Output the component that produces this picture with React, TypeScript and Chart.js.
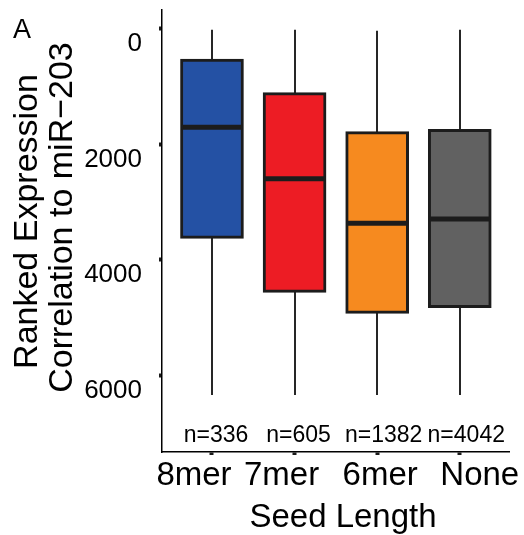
import React, { useEffect, useRef } from 'react';
import { Chart, registerables } from 'chart.js';

Chart.register(...registerables);

// ---- data ----
const categories = ['8mer', '7mer', '6mer', 'None'];
const countLabels = ['n=336', 'n=605', 'n=1382', 'n=4042'];
const whiskerLow = [15, 15, 30, 15];
const q1 = [519, 1103, 1778, 1737];
const median = [1703, 2592, 3365, 3290];
const q3 = [3625, 4560, 4924, 4826];
const whiskerHigh = [6340, 6340, 6340, 6340];
const yTicks = [0, 2000, 4000, 6000];
const boxColors = ['#2451A4', '#ED1C24', '#F68A1F', '#616161'];

// ---- layout / style constants ----
const FONT = '"Liberation Sans", Arial, Helvetica, sans-serif';
const W = 524;
const H = 535;
const BOX_W = 63;
const catLabelShift = [-18, -13, 3, 20];
const countShift = [4, 4, 6.5, 6.5];

const extrasPlugin = {
  id: 'boxExtras',
  beforeDatasetsDraw(chart: any) {
    const { ctx } = chart;
    const x = chart.scales.x;
    const y = chart.scales.y;
    ctx.save();
    ctx.strokeStyle = '#262626';
    ctx.lineWidth = 2;
    categories.forEach((_, i) => {
      const px = Math.round(x.getPixelForValue(i + 1));
      ctx.beginPath();
      ctx.moveTo(px, y.getPixelForValue(whiskerLow[i]));
      ctx.lineTo(px, y.getPixelForValue(whiskerHigh[i]));
      ctx.stroke();
    });
    ctx.restore();
  },
  afterDatasetsDraw(chart: any) {
    const { ctx } = chart;
    const x = chart.scales.x;
    const y = chart.scales.y;
    ctx.save();
    ctx.strokeStyle = '#1c1c1c';
    ctx.lineWidth = 5;
    categories.forEach((_, i) => {
      const px = x.getPixelForValue(i + 1);
      const py = y.getPixelForValue(median[i]);
      ctx.beginPath();
      ctx.moveTo(px - BOX_W / 2 + 1, py);
      ctx.lineTo(px + BOX_W / 2 - 1, py);
      ctx.stroke();
    });
    ctx.restore();
  },
  afterDraw(chart: any) {
    const { ctx } = chart;
    const x = chart.scales.x;
    ctx.save();
    ctx.fillStyle = '#000';
    ctx.textBaseline = 'alphabetic';

    // panel letter
    ctx.font = `27px ${FONT}`;
    ctx.textAlign = 'left';
    ctx.fillText('A', 13, 38);

    // y title (two lines, rotated)
    ctx.font = `34px ${FONT}`;
    ctx.textAlign = 'center';
    ctx.save();
    ctx.translate(37, 221.5);
    ctx.rotate(-Math.PI / 2);
    ctx.fillText('Ranked Expression', 0, 0);
    ctx.restore();
    ctx.save();
    ctx.translate(72, 217.5);
    ctx.rotate(-Math.PI / 2);
    ctx.fillText('Correlation to miR\u2212203', 0, 0);
    ctx.restore();

    // counts
    ctx.font = `23px ${FONT}`;
    countLabels.forEach((t, i) => {
      ctx.fillText(t, x.getPixelForValue(i + 1) + countShift[i], 441.5);
    });

    // category labels
    ctx.font = `33px ${FONT}`;
    categories.forEach((t, i) => {
      ctx.fillText(t, x.getPixelForValue(i + 1) + catLabelShift[i], 485);
    });

    // x title
    ctx.fillText('Seed Length', 343, 526.5);
    ctx.restore();
  },
};

export default function App() {
  const canvasRef = useRef<HTMLCanvasElement | null>(null);

  useEffect(() => {
    const canvas = canvasRef.current;
    if (!canvas) return;
    const chart = new Chart(canvas, {
      type: 'bar',
      data: {
        datasets: [
          {
            data: categories.map((_, i) => ({ x: i + 1, y: [q1[i], q3[i]] })) as any,
            backgroundColor: boxColors,
            borderColor: '#1c1c1c',
            borderWidth: 3,
            borderSkipped: false,
            barThickness: BOX_W,
          } as any,
        ],
      },
      options: {
        animation: false,
        responsive: false,
        events: [],
        layout: { padding: { top: 10, right: 15, bottom: 0, left: 0 } },
        plugins: {
          legend: { display: false },
          tooltip: { enabled: false },
          title: { display: false },
        },
        scales: {
          x: {
            type: 'linear',
            min: 0.395,
            max: 4.596,
            offset: false,
            afterBuildTicks: (scale: any) => {
              scale.ticks = categories.map((_, i) => ({ value: i + 1 }));
            },
            afterFit: (scale: any) => {
              scale.height = 83;
              scale.paddingLeft = 0;
              scale.paddingRight = 0;
            },
            ticks: { display: false },
            grid: {
              display: true,
              offset: false,
              drawOnChartArea: false,
              drawTicks: true,
              tickLength: 3,
              tickWidth: 4,
              tickColor: '#1a1a1a',
              color: '#1a1a1a',
            },
            border: { display: true, color: '#000', width: 1.5 },
          },
          y: {
            type: 'linear',
            reverse: true,
            min: -329,
            max: 7325,
            afterBuildTicks: (scale: any) => {
              scale.ticks = yTicks.map((v) => ({ value: v }));
            },
            afterFit: (scale: any) => {
              scale.width = 162;
              scale.paddingTop = 0;
              scale.paddingBottom = 0;
            },
            ticks: {
              color: '#000',
              font: { size: 26, family: FONT },
              padding: 17,
              labelOffset: 15,
              callback: (v: any) => String(v),
            },
            grid: {
              display: true,
              offset: false,
              drawOnChartArea: false,
              drawTicks: true,
              tickLength: 3,
              tickWidth: 4,
              tickColor: '#1a1a1a',
              color: '#1a1a1a',
            },
            border: { display: true, color: '#000', width: 1.5 },
          },
        },
      } as any,
      plugins: [extrasPlugin],
    });
    return () => chart.destroy();
  }, []);

  return (
    <div style={{ position: 'fixed', left: 0, top: 0, width: W, height: H, background: '#fff' }}>
      <canvas ref={canvasRef} width={W} height={H} style={{ display: 'block', width: W, height: H }} />
    </div>
  );
}
